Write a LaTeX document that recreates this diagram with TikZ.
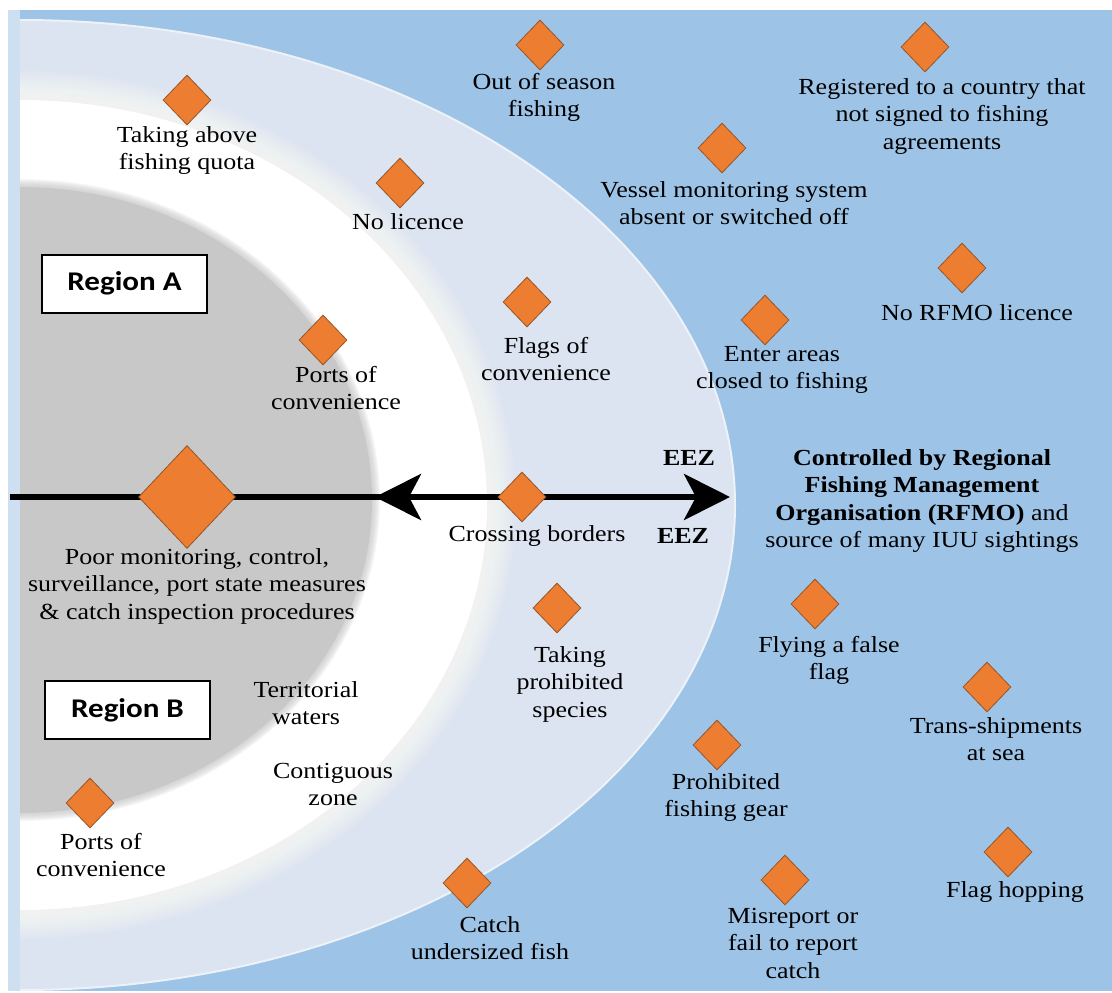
\documentclass[tikz,border=0pt]{standalone}
\usepackage{fontspec}
\setmainfont{Liberation Serif}[FakeStretch=1.13]
\newfontfamily\regiaofont{Carlito}[FakeStretch=1.15]
\usetikzlibrary{shapes.geometric, arrows.meta}
\definecolor{mar}{RGB}{157,195,230}
\definecolor{zonaclara}{RGB}{219,228,240}
\definecolor{terra}{RGB}{200,200,200}
\definecolor{faixa}{RGB}{205,223,241}
\definecolor{laranja}{RGB}{237,125,49}
\definecolor{laranjaescuro}{RGB}{150,85,40}
\tikzset{
    losango/.style={diamond, draw=laranjaescuro, fill=laranja, line width=0.8pt, minimum width=48pt, minimum height=50pt, inner sep=0pt},
    texto/.style={align=center, inner sep=0pt, anchor=north, font=\fontsize{23}{27.5}\selectfont},
    regiao/.style={draw=black, line width=2pt, fill=white, minimum width=165pt, minimum height=58pt, inner sep=0pt, font=\regiaofont\bfseries\fontsize{27}{30}\selectfont},
    seta/.style={line width=6pt, -{Stealth[length=46pt, width=46pt, inset=12pt]}}
}

\begin{document}
\begin{tikzpicture}[x=1pt, y=-1pt]
    \useasboundingbox (0,0) rectangle (1112,993);
    \fill[white] (0,0) rectangle (1112,993);
    \begin{scope}
        \clip (8,10) rectangle (1112,991);
        \fill[mar] (8,10) rectangle (1112,991);
        \coordinate (centro) at (20,505);
        \coordinate (centroterra) at (20,500);
        \fill[zonaclara, draw=white!50!zonaclara, line width=2pt] (centro) ellipse [x radius=715pt, y radius=485pt];
        \foreach \k [evaluate=\k as \ra using 497-1.5*\k, evaluate=\k as \rb using 435-1.5*\k] in {0,...,19}
            \fill[white, opacity=0.07] (centro) ellipse [x radius=\ra pt, y radius=\rb pt];
        \fill[white] (centro) ellipse [x radius=467pt, y radius=405pt];
        \foreach \k [evaluate=\k as \ra using 360-\k, evaluate=\k as \rb using 321-\k] in {0,...,7}
            \fill[terra, opacity=0.14] (centroterra) ellipse [x radius=\ra pt, y radius=\rb pt];
        \fill[terra] (centroterra) ellipse [x radius=352pt, y radius=313pt];
        \fill[faixa] (8,10) rectangle (20,991);
    \end{scope}

    \coordinate (costa) at (10,497);
    \coordinate (limiteEEZ) at (730,497);
    \coordinate (limiteMT) at (375,497);
    \coordinate (cruzamento) at (522,497);
    \draw[seta] (costa) -- (limiteEEZ);
    \draw[seta] (cruzamento) -- (limiteMT);

    \node[regiao] (regiaoA) at (124.5,283.5) {Region A};
    \node[regiao] (regiaoB) at (127.5,710) {Region B};

    \node[losango] (d1) at (187,100) {};
    \node[texto] (t1) at (187,126) {Taking above\\fishing quota};
    \node[losango] (d2) at (400,183) {};
    \node[texto] (t2) at (408,213) {No licence};
    \node[losango] (d3) at (540,45) {};
    \node[texto] (t3) at (544,73) {Out of season\\fishing};
    \node[losango] (d4) at (925,47) {};
    \node[texto] (t4) at (942,78) {Registered to a country that\\not signed to fishing\\agreements};
    \node[losango] (d5) at (722,148) {};
    \node[texto] (t5) at (734,181) {Vessel monitoring system\\absent or switched off};
    \node[losango] (d6) at (962,268) {};
    \node[texto] (t6) at (977,304) {No RFMO licence};
    \node[losango] (d7) at (323,340) {};
    \node[texto] (t7) at (336,366) {Ports of\\convenience};
    \node[losango] (d8) at (527,302) {};
    \node[texto] (t8) at (546,337) {Flags of\\convenience};
    \node[losango] (d9) at (765,320) {};
    \node[texto] (t9) at (782,346) {Enter areas\\closed to fishing};

    \node[texto, anchor=center, font=\fontsize{23}{27.5}\selectfont\bfseries] (eezA) at (689,458) {EEZ};
    \node[texto, anchor=center, font=\fontsize{23}{27.5}\selectfont\bfseries] (eezB) at (683,536) {EEZ};
    \node[texto] (rfmo) at (922,449) {\textbf{Controlled by Regional}\\\textbf{Fishing Management}\\\textbf{Organisation (RFMO)} and\\source of many IUU sightings};

    \node[losango, minimum width=97pt, minimum height=103pt] (d10) at (187,497) {};
    \node[texto] (t10) at (197,548) {Poor monitoring, control,\\surveillance, port state measures\\\& catch inspection procedures};
    \node[losango] (d11) at (cruzamento) {};
    \node[texto] (t11) at (537,525) {Crossing borders};
    \node[losango] (d12) at (557,608) {};
    \node[texto] (t12) at (570,646) {Taking\\prohibited\\species};
    \node[losango] (d13) at (815,604) {};
    \node[texto] (t13) at (829,636) {Flying a false\\flag};
    \node[texto] (mar1) at (306,681) {Territorial\\waters};
    \node[texto] (mar2) at (333,763) {Contiguous\\zone};
    \node[losango] (d14) at (987,687) {};
    \node[texto] (t14) at (996,717) {Trans-shipments\\at sea};
    \node[losango] (d15) at (717,745) {};
    \node[texto] (t15) at (726,773) {Prohibited\\fishing gear};
    \node[losango] (d16) at (90,803) {};
    \node[texto] (t16) at (101,833) {Ports of\\convenience};
    \node[losango] (d17) at (467,883) {};
    \node[texto] (t17) at (490,916) {Catch\\undersized fish};
    \node[losango] (d18) at (785,880) {};
    \node[texto] (t18) at (793,908) {Misreport or\\fail to report\\catch};
    \node[losango] (d19) at (1008,852) {};
    \node[texto] (t19) at (1015,881) {Flag hopping};
\end{tikzpicture}
\end{document}
